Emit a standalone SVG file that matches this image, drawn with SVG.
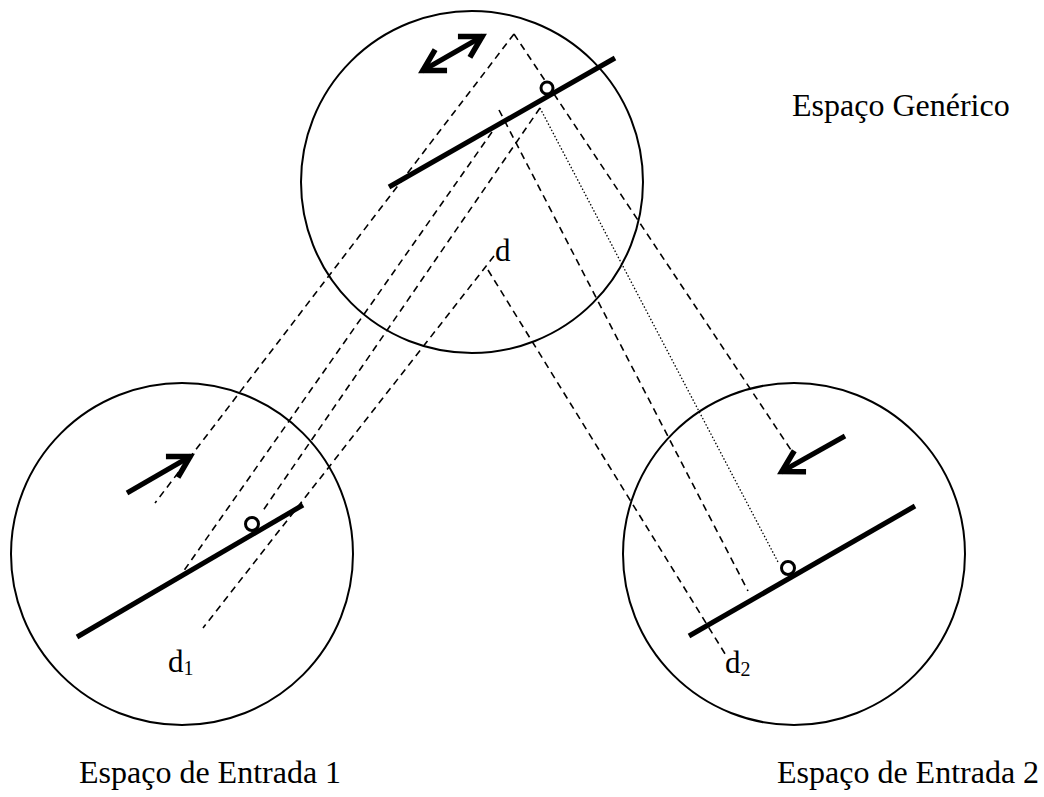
<svg xmlns="http://www.w3.org/2000/svg" width="1044" height="797" viewBox="0 0 1044 797">
  <style>
    .space { fill: none; stroke: #000; stroke-width: 2; }
    .bar { stroke: #000; stroke-width: 5; stroke-linecap: butt; }
    .dot { fill: #fff; stroke: #000; stroke-width: 3; }
    .dash { stroke: #000; stroke-width: 1.6; stroke-dasharray: 7 5; fill: none; }
    .dotted { stroke: #000; stroke-width: 1.3; stroke-dasharray: 1.5 2; fill: none; }
    .arrow { stroke: #000; stroke-width: 5; fill: none; marker-end: url(#head); }
    .title { font-family: "Liberation Serif", "Times New Roman", serif; font-size: 32px; fill: #000; }
    .label { font-family: "Liberation Serif", "Times New Roman", serif; font-size: 31px; fill: #000; }
  </style>
  <defs>
    <marker id="head" markerUnits="userSpaceOnUse" viewBox="-30 -20 40 40" markerWidth="40" markerHeight="40" refX="0" refY="0" orient="auto-start-reverse">
      <path d="M-22,-12 L-1,0 L-22,12" fill="none" stroke="#000" stroke-width="5.5" stroke-linejoin="miter"/>
    </marker>
  </defs>
  <rect width="1044" height="797" fill="#fff"/>

  <!-- projection lines between the spaces -->
  <g id="connectors">
    <path class="dash" d="M514,34 L155,503"/>
    <path class="dash" d="M514,34 L793,453"/>
    <path class="dash" d="M499,110 L748,591"/>
    <path class="dash" d="M492,132 L183,572"/>
    <path class="dash" d="M540,108 L262,512"/>
    <path class="dash" d="M494,256 L203,628"/>
    <path class="dash" d="M488,270 L727,657"/>
    <path class="dotted" d="M540,108 L778,562"/>
  </g>

  <!-- generic space -->
  <g id="generic-space">
    <circle class="space" cx="472" cy="182" r="171"/>
    <line class="bar" x1="389" y1="187" x2="615" y2="58"/>
    <circle class="dot" cx="547" cy="88" r="6"/>
    <line class="arrow" x1="422" y1="71" x2="483" y2="36" style="marker-start:url(#head)"/>
    <text class="label" x="495" y="261">d</text>
    <text class="title" x="792" y="116">Espaço Genérico</text>
  </g>

  <!-- input space 1 -->
  <g id="input-space-1">
    <circle class="space" cx="182" cy="554" r="171"/>
    <line class="bar" x1="77" y1="637" x2="303" y2="505"/>
    <circle class="dot" cx="252" cy="524" r="6.5"/>
    <line class="arrow" x1="127" y1="493" x2="191" y2="456"/>
    <text class="label" x="168" y="672">d<tspan font-size="20" dy="3">1</tspan></text>
    <text class="title" x="79" y="783">Espaço de Entrada 1</text>
  </g>

  <!-- input space 2 -->
  <g id="input-space-2">
    <circle class="space" cx="794" cy="554" r="171"/>
    <line class="bar" x1="689" y1="636" x2="915" y2="506"/>
    <circle class="dot" cx="788" cy="568" r="6.5"/>
    <line class="arrow" x1="845" y1="436" x2="781" y2="472"/>
    <text class="label" x="725" y="673">d<tspan font-size="20" dy="3">2</tspan></text>
    <text class="title" x="777" y="783">Espaço de Entrada 2</text>
  </g>
</svg>
